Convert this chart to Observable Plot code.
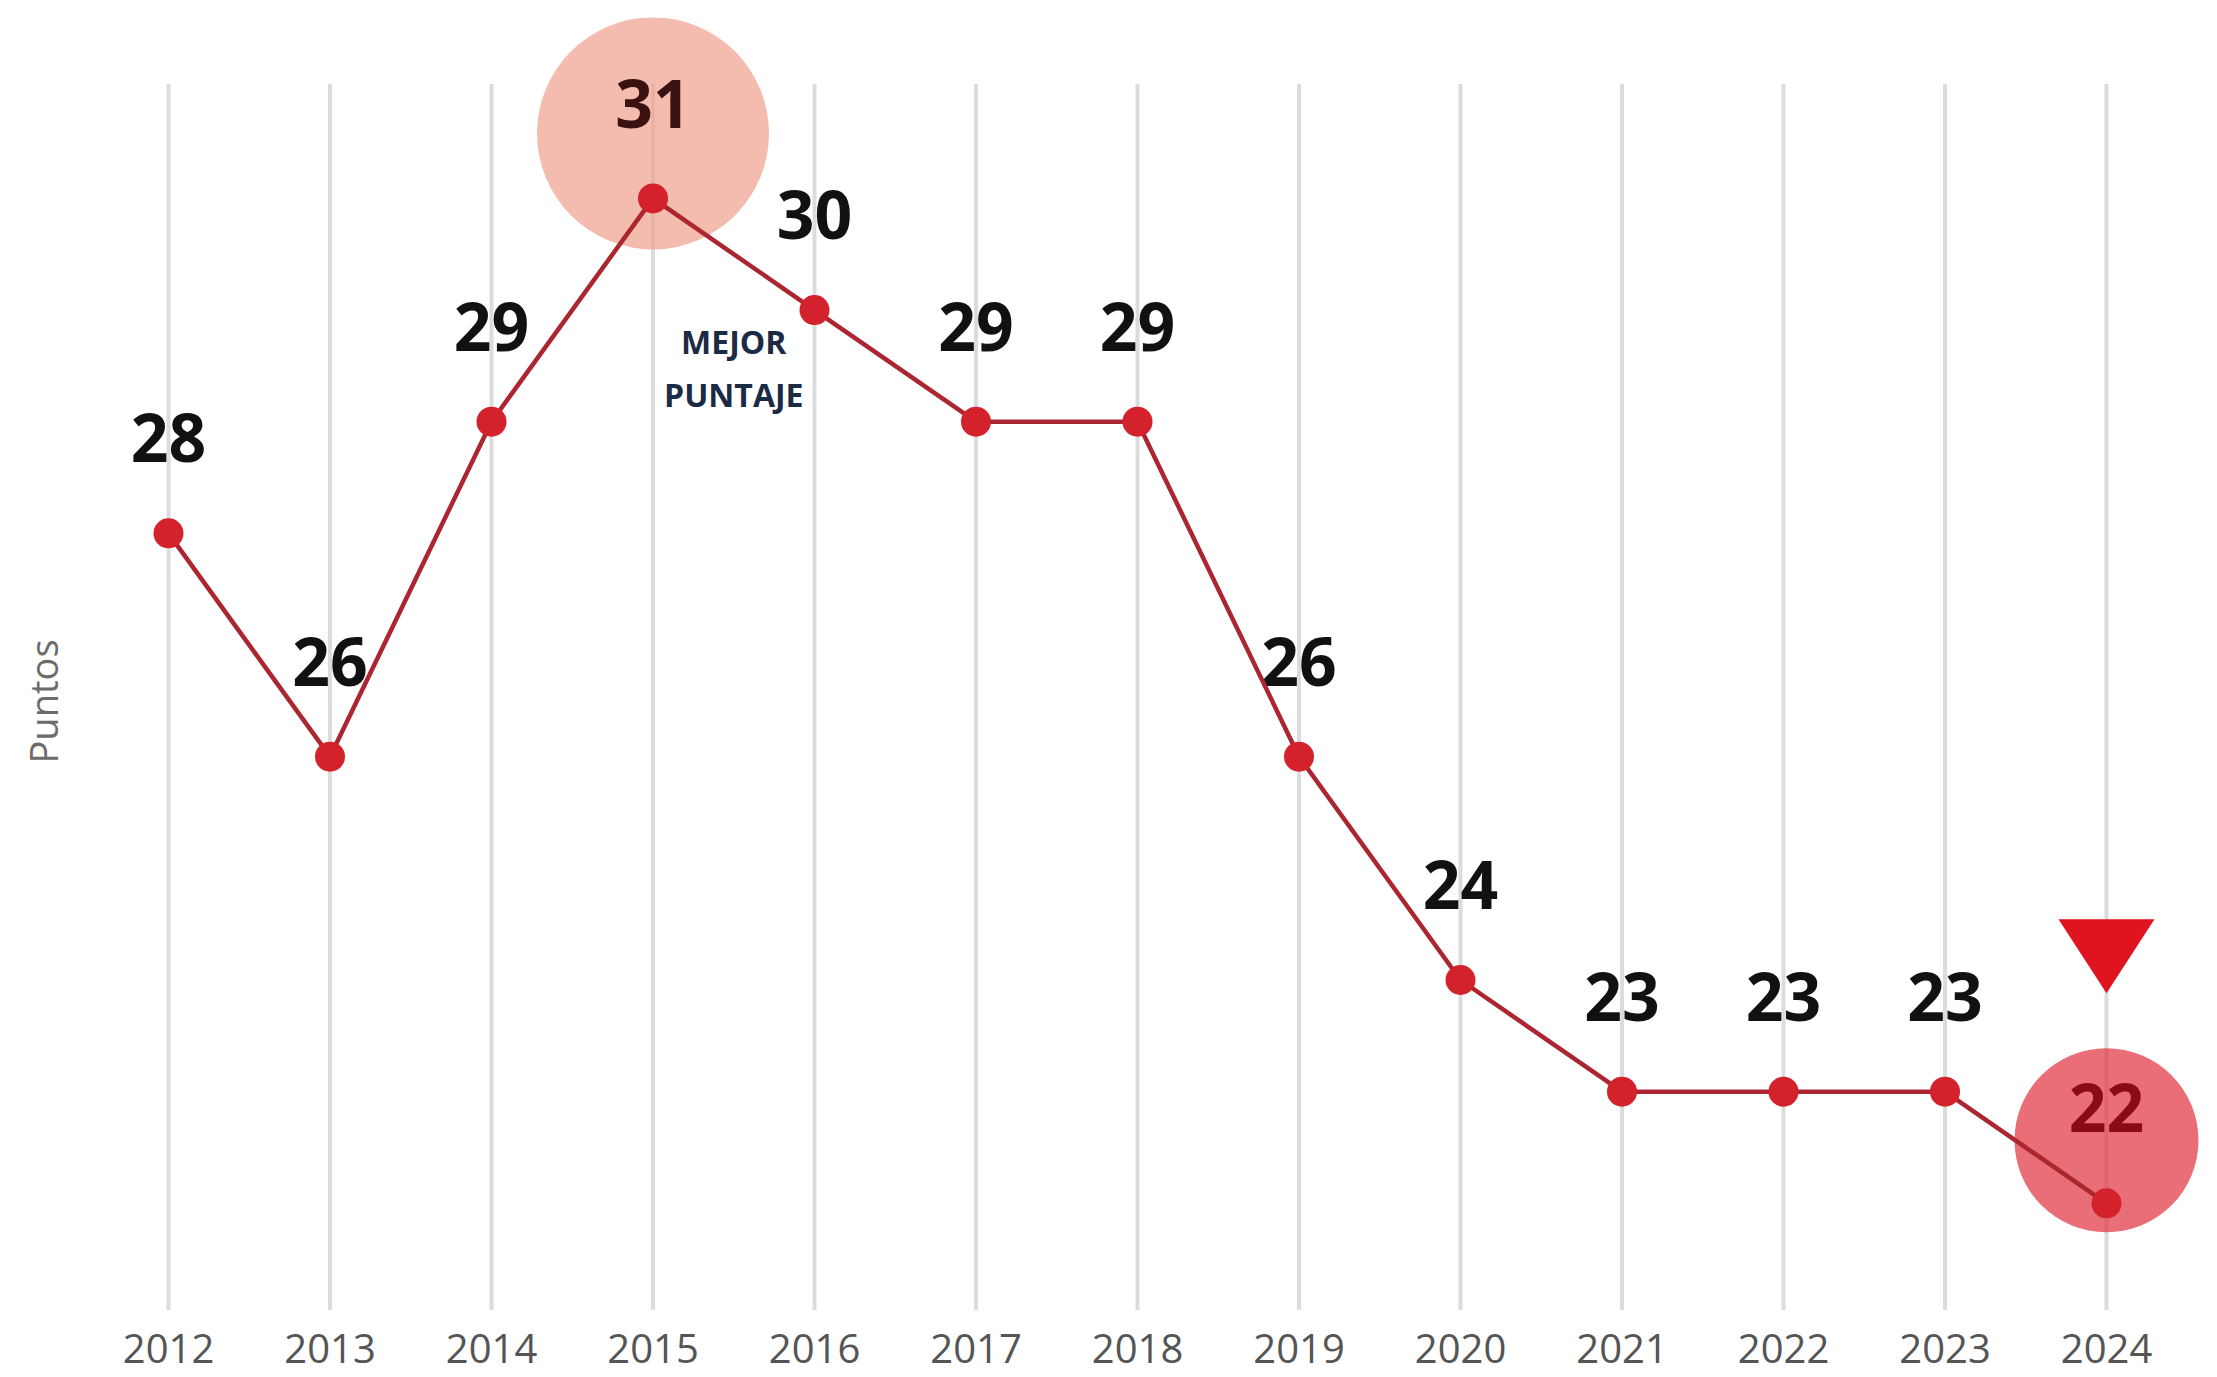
<!DOCTYPE html>
<html>
<head>
<meta charset="utf-8">
<script src="https://cdn.jsdelivr.net/npm/d3@7"></script>
<script src="https://cdn.jsdelivr.net/npm/@observablehq/plot@0.6"></script>
<style>
  html, body { margin: 0; padding: 0; background: #fff; }
  #chart svg { display: block; font-family: "Open Sans", sans-serif; }
</style>
</head>
<body>
<div id="chart"></div>
<script>
const years = [2012, 2013, 2014, 2015, 2016, 2017, 2018, 2019, 2020, 2021, 2022, 2023, 2024];
const puntos = [28, 26, 29, 31, 30, 29, 29, 26, 24, 23, 23, 23, 22];
const yLabel = "Puntos";
const bestNote = "MEJOR\nPUNTAJE";

const data = years.map((year, i) => ({year, value: puntos[i]}));
const maxValue = d3.max(puntos);
const best = data.filter(d => d.value === maxValue);
const last = data.slice(-1);
const bestNoteData = best.map(d => ({year: d.year + 0.5, value: d.value, text: bestNote}));

const downTriangle = {
  draw(ctx, size) {
    const r = Math.sqrt(size / Math.PI);
    ctx.moveTo(-r, -0.77 * r);
    ctx.lineTo(r, -0.77 * r);
    ctx.lineTo(0, 0.77 * r);
    ctx.closePath();
  }
};

const chart = Plot.plot({
  width: 2217,
  height: 1377,
  marginTop: 84,
  marginBottom: 67,
  marginLeft: 168,
  marginRight: 111,
  style: {fontFamily: "'Open Sans', sans-serif", background: "#fff"},
  x: {type: "linear", domain: [years[0], years[years.length - 1]]},
  y: {domain: [21.04, 32.02], axis: null},
  marks: [
    Plot.ruleX(years, {stroke: "#dcdcdc", strokeWidth: 4}),
    Plot.axisX({ticks: years, tickFormat: d => String(d), tickSize: 0, tickPadding: 24,
      fontSize: 40, fill: "#555", label: null}),
    Plot.text([yLabel], {frameAnchor: "left", textAnchor: "middle", dx: -123, dy: 4, rotate: -90,
      fontSize: 38, fill: "#6b6b6b"}),
    // highlight circles
    Plot.dot(best, {x: "year", y: "value", r: 116, dy: -65, fill: "#f0a08c", fillOpacity: 0.7, stroke: "none"}),
    Plot.dot(last, {x: "year", y: "value", r: 92, dy: -63, fill: "#e0303f", fillOpacity: 0.7, stroke: "none"}),
    // value labels
    Plot.text(data, {x: "year", y: "value", text: d => String(d.value), dy: -92,
      fontSize: 66, fontWeight: 700,
      fill: d => d.value === maxValue ? "#3b1212" : (d.year === years[years.length - 1] ? "#8a0b16" : "#111")}),
    Plot.text(bestNoteData, {x: "year", y: "value", text: "text", dy: 165,
      fontSize: 32, fontWeight: 700, lineHeight: 1.65, fill: "#1c2b45"}),
    // line + dots
    Plot.line(data, {x: "year", y: "value", stroke: "#ab2631", strokeWidth: 4.5}),
    Plot.dot(data, {x: "year", y: "value", r: 15, fill: "#d4222c", stroke: "none"}),
    // down triangle marker
    Plot.dot(last, {x: "year", y: "value", r: 48, dy: -247, symbol: downTriangle, fill: "#e0141e", stroke: "none"})
  ]
});

document.getElementById("chart").appendChild(chart);
</script>
</body>
</html>
